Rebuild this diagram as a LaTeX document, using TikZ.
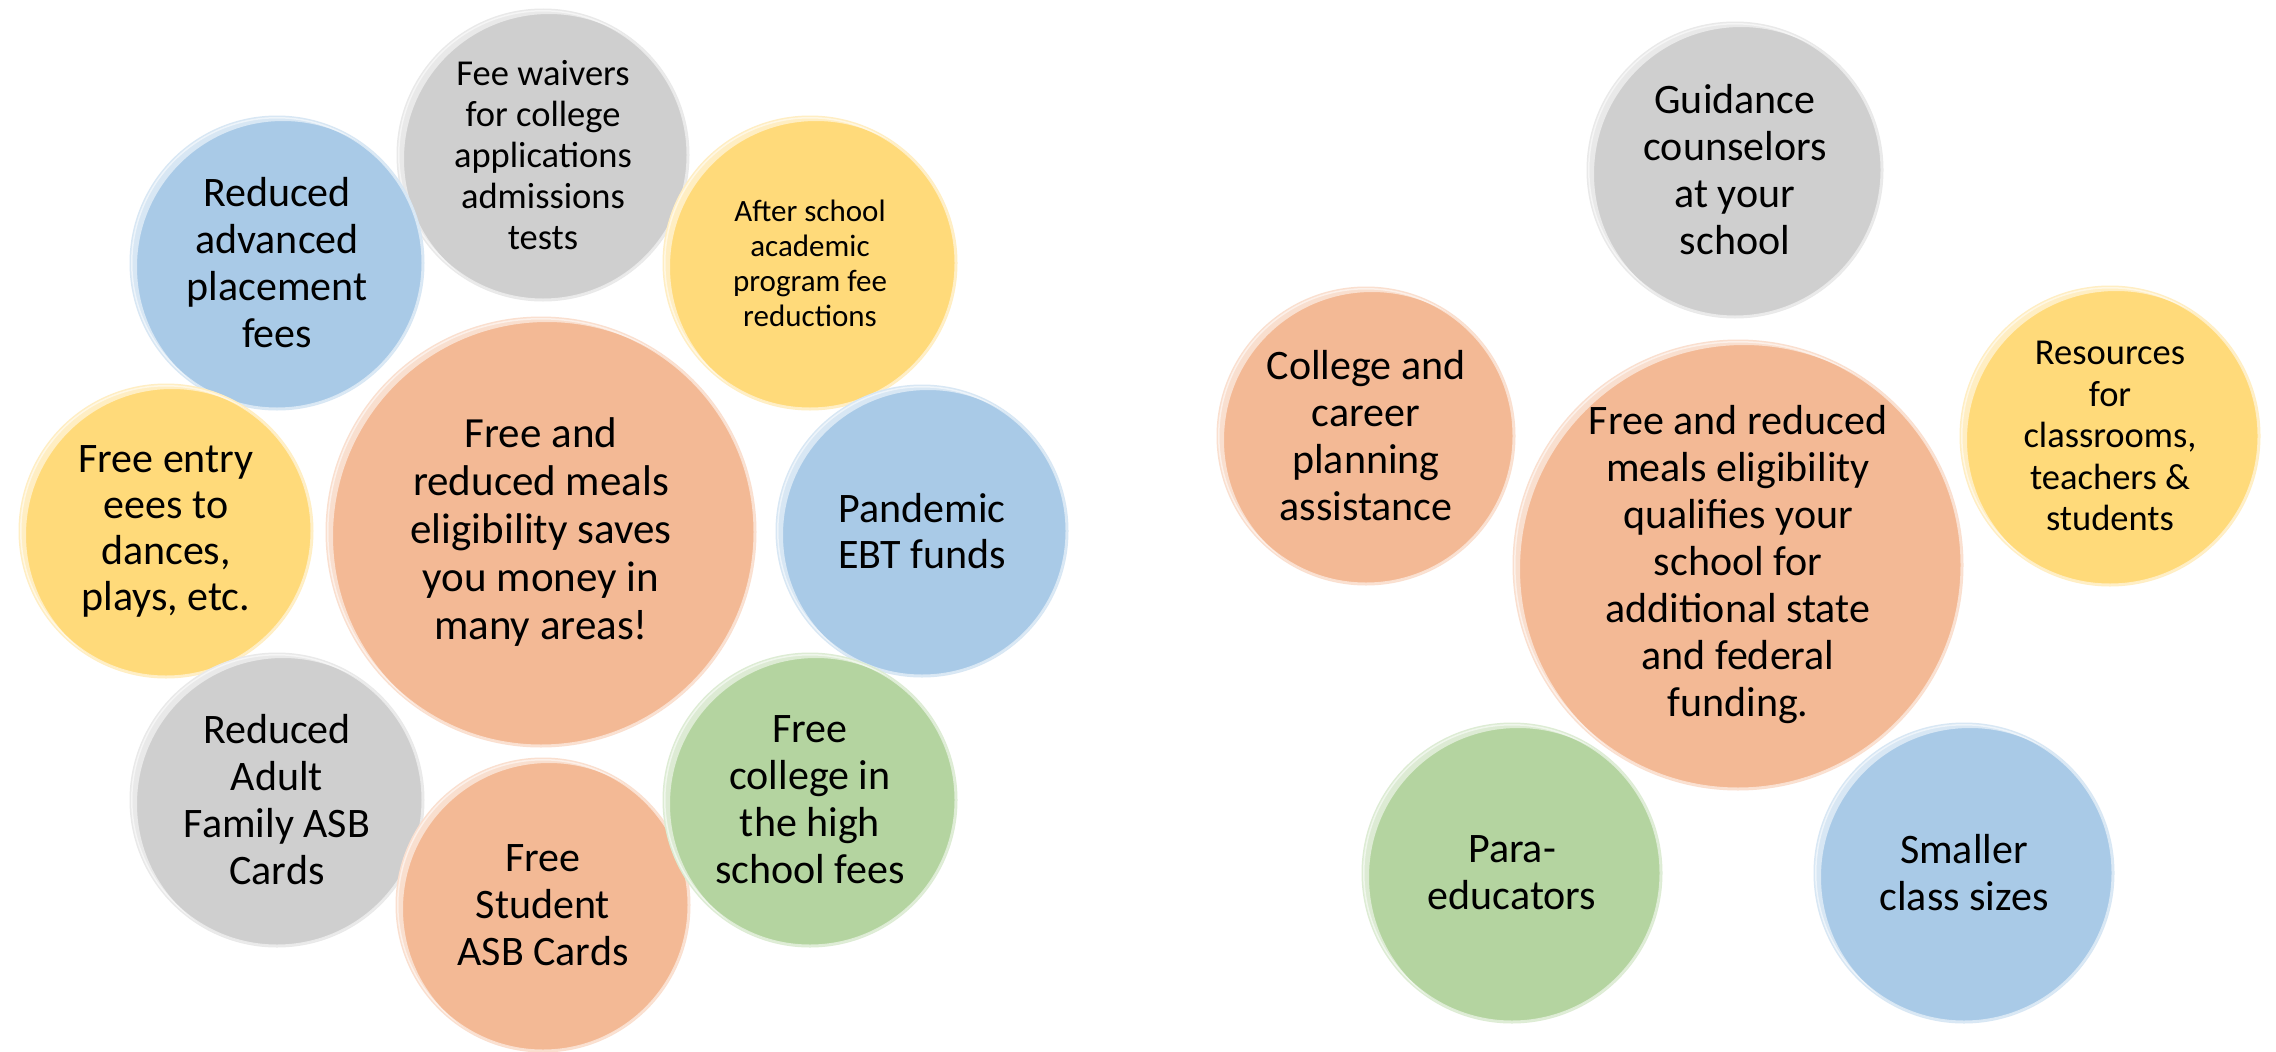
\documentclass[tikz,border=0pt]{standalone}
\usepackage{fontspec}
\setmainfont{Carlito}
\definecolor{cOr}{HTML}{F3B995}
\definecolor{cBl}{HTML}{A9CAE7}
\definecolor{cGr}{HTML}{CFCFCF}
\definecolor{cYe}{HTML}{FFDA7A}
\definecolor{cGn}{HTML}{B4D4A0}
\tikzset{
  bub/.style={circle, inner sep=0pt, outer sep=0pt, align=center, text=black, line width=3pt}
}
% #1 name, #2 x, #3 y, #4 radius, #5 colour, #6 font size, #7 leading, #8 text
\newcommand\bubble[8]{%
  \node[bub, fill=#5, draw=#5!45!white, minimum size=2*#4pt,
        font=\fontsize{#6}{#7}\selectfont] (#1) at (#2,#3) {#8};
  \begin{scope}
    \clip (#1.center) circle (#4pt);
    \fill[white, opacity=.55, even odd rule] (#1.center) circle (#4pt)
      ([shift={(6,4)}]#1.center) circle (#4pt);
  \end{scope}
}
\begin{document}
\begin{tikzpicture}[x=1pt, y=-1pt]
\fill[white] (0,0) rectangle (2276,1052);
\useasboundingbox (0,0) rectangle (2276,1052);
% left cluster
\bubble{lmain}{541}{532}{214}{cOr}{43}{48}{Free and\\reduced meals\\eligibility saves\\you money in\\many areas!}
\bubble{fee}{543}{155}{145}{cGr}{36.5}{41}{Fee waivers\\for college\\applications\\admissions\\tests}
\bubble{ap}{277}{263}{146}{cBl}{42}{47}{Reduced\\advanced\\placement\\fees}
\bubble{after}{810}{263}{146}{cYe}{31}{35}{After school\\academic\\program fee\\reductions}
\bubble{ebt}{922}{531}{145}{cBl}{42}{46}{Pandemic\\EBT funds}
\bubble{entry}{166}{531}{146}{cYe}{42}{46}{Free entry\\eees to\\dances,\\plays, etc.}
\bubble{adult}{277}{800}{146}{cGr}{42}{47}{Reduced\\Adult\\Family ASB\\Cards}
\bubble{student}{543}{905}{146}{cOr}{42}{47}{Free\\Student\\ASB Cards}
\bubble{college}{810}{800}{146}{cGn}{42}{47}{Free\\college in\\the high\\school fees}
% right cluster
\bubble{rmain}{1738}{565}{224}{cOr}{42}{47}{Free and reduced\\meals eligibility\\qualifies your\\school for\\additional state\\and federal\\funding.}
\bubble{guid}{1735}{170}{147}{cGr}{42}{47}{Guidance\\counselors\\at your\\school}
\bubble{career}{1366}{436}{148}{cOr}{42}{47}{College and\\career\\planning\\assistance}
\bubble{res}{2110}{436}{149}{cYe}{36.5}{41.5}{Resources\\for\\classrooms,\\teachers \&\\students}
\bubble{para}{1512}{873}{149}{cGn}{42}{47}{Para-\\educators}
\bubble{small}{1964}{873}{149}{cBl}{42}{47}{Smaller\\class sizes}
\end{tikzpicture}
\end{document}
